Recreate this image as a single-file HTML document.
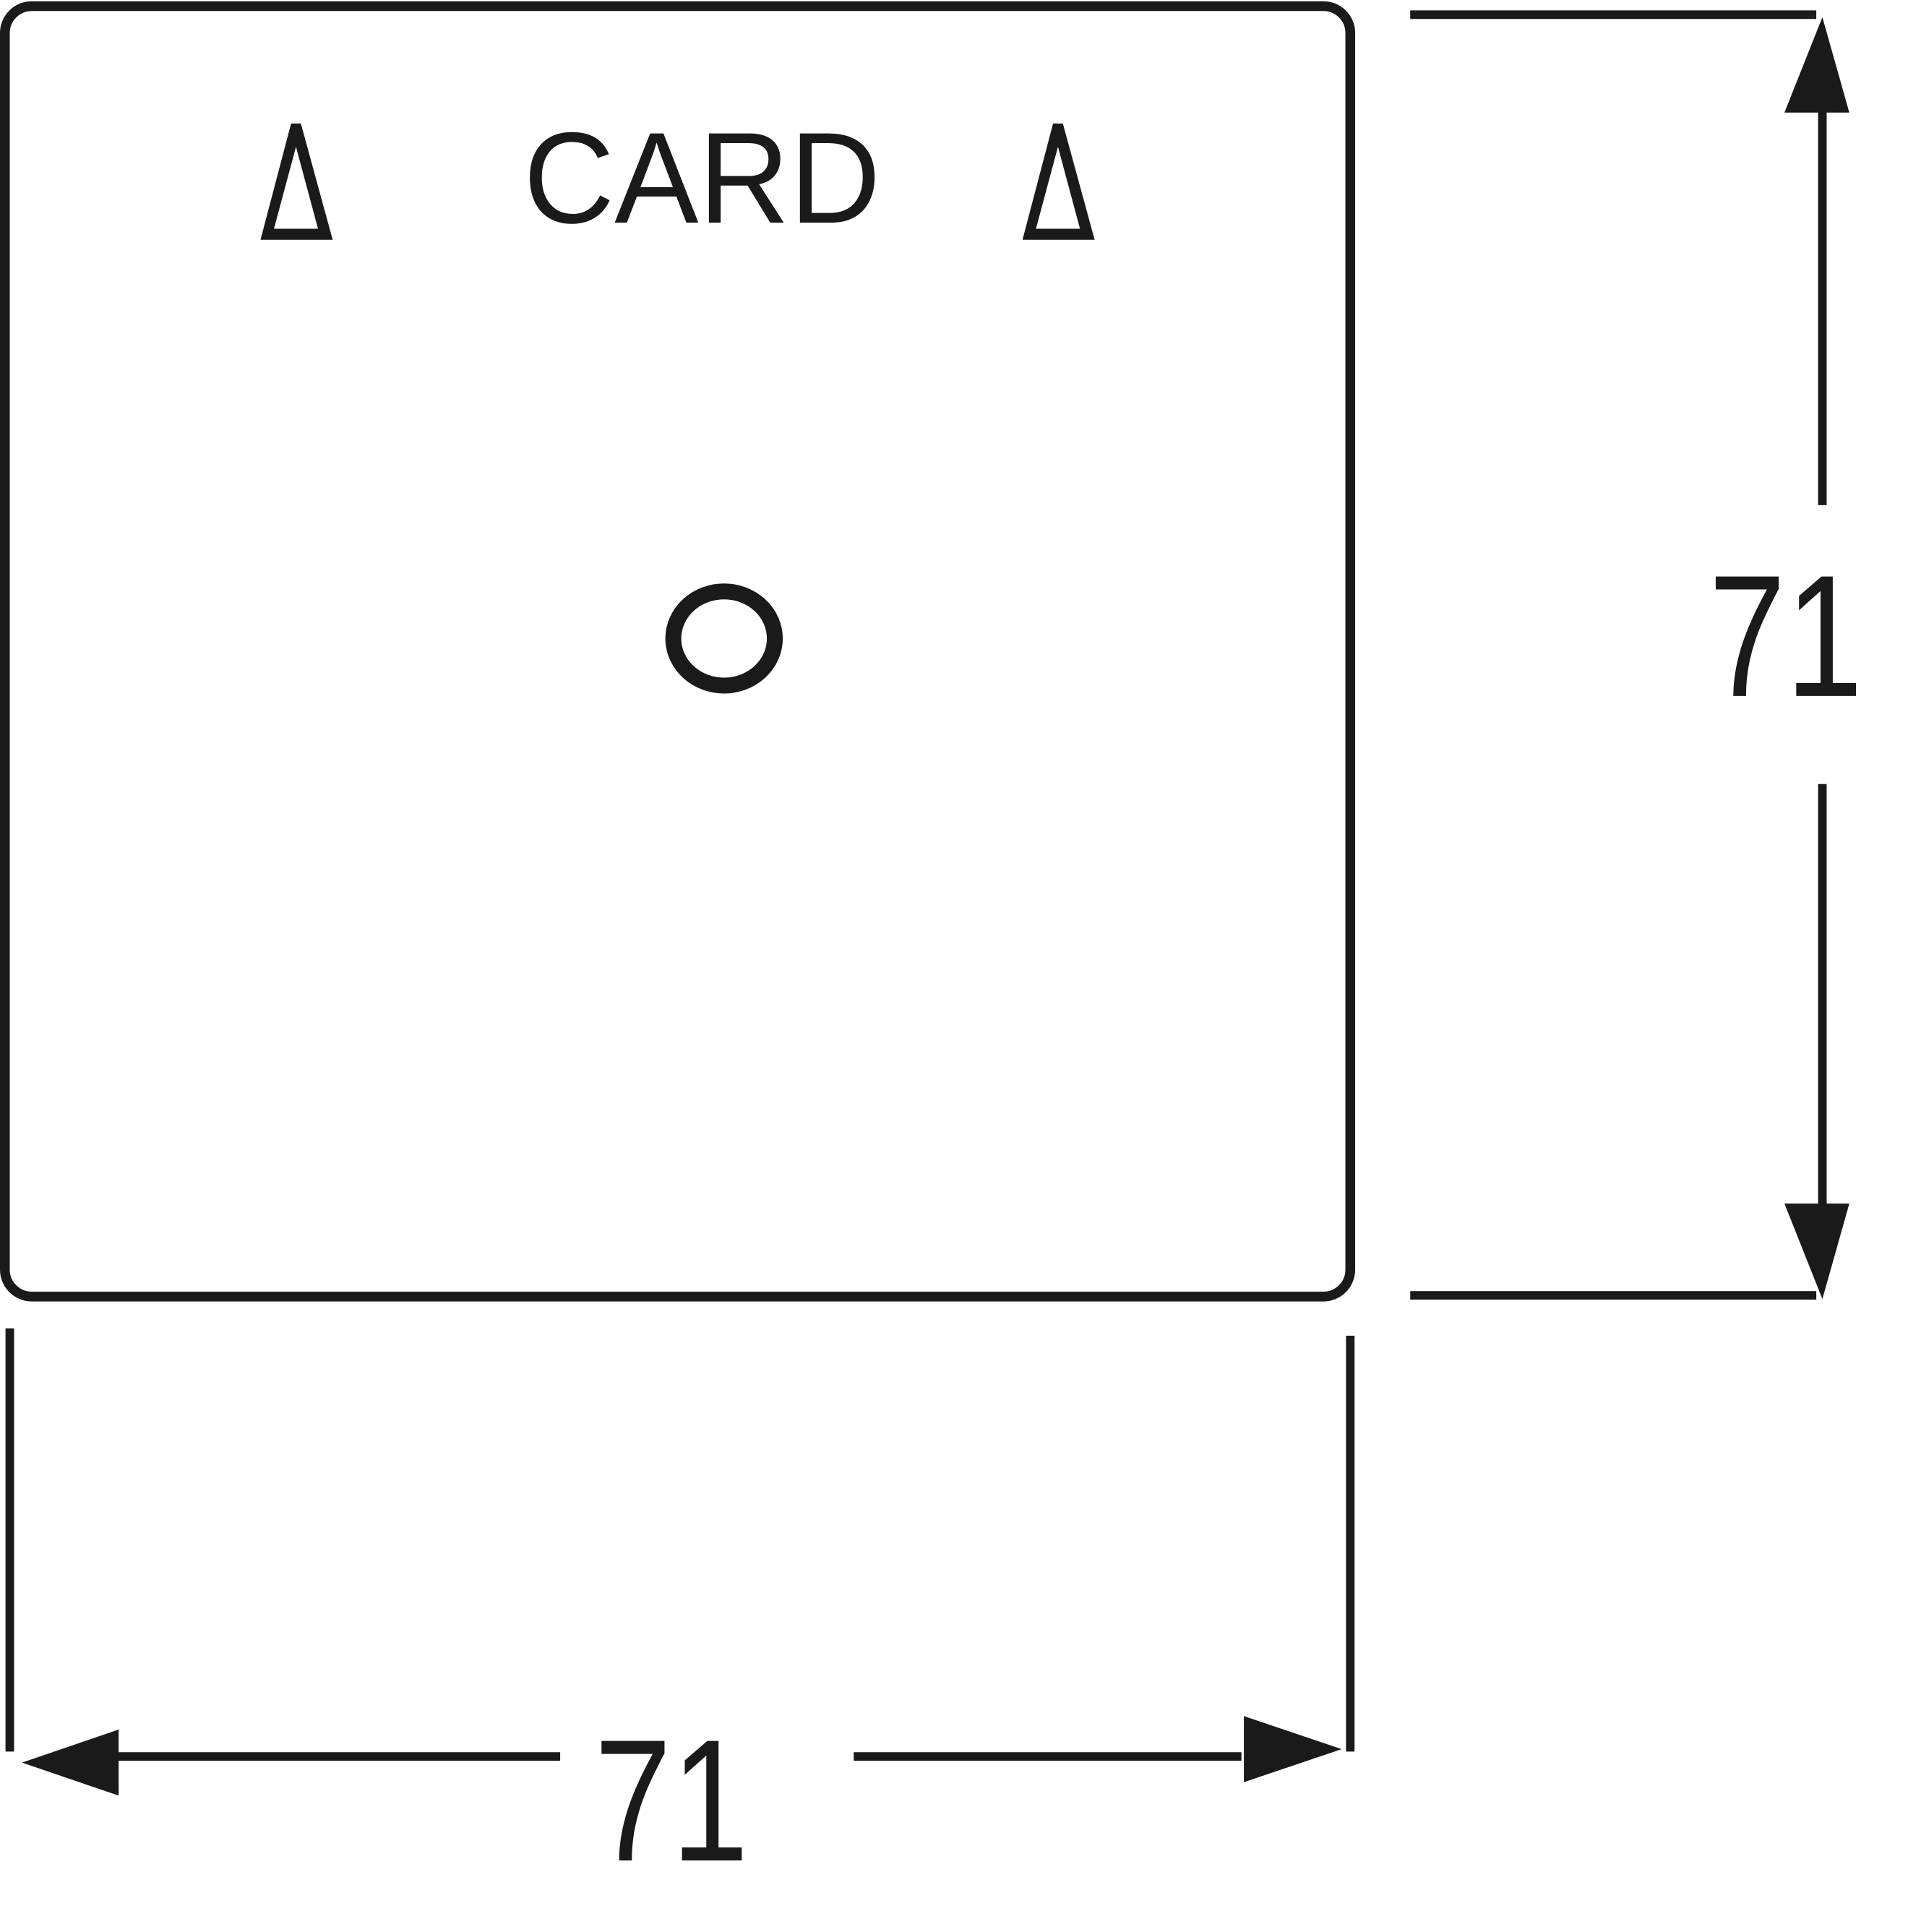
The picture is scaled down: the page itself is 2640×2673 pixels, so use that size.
<!DOCTYPE html>
<html><head><meta charset="utf-8"><style>
html,body{margin:0;padding:0;background:#fff;}
svg{display:block;}
</style></head><body>
<svg width="2640" height="2673" viewBox="0 0 1560 1579.5" xmlns="http://www.w3.org/2000/svg">
<g fill="none" stroke="#1a1a1a">
<rect x="4" y="5" width="1100" height="1055" rx="22" stroke-width="8"/>
<ellipse cx="592" cy="522" rx="41.5" ry="38.5" stroke-width="13"/>
<g stroke-width="7">
<line x1="1153" y1="12" x2="1485" y2="12"/>
<line x1="1153" y1="1059" x2="1485" y2="1059"/>
<line x1="1490" y1="90" x2="1490" y2="413"/>
<line x1="1490" y1="641" x2="1490" y2="986"/>
<line x1="8" y1="1086" x2="8" y2="1432"/>
<line x1="1104" y1="1092" x2="1104" y2="1432"/>
<line x1="95" y1="1436" x2="458" y2="1436"/>
<line x1="698" y1="1436" x2="1015" y2="1436"/>
</g>
</g>
<g fill="#1a1a1a">
<polygon points="1490,14 1459,92 1512,92"/>
<polygon points="1459,984 1512,984 1490,1062"/>
<polygon points="18,1441 97,1414 97,1468"/>
<polygon points="1017,1403 1017,1457 1097,1430"/>
<path fill-rule="evenodd" d="M213,196 L238,101 L246,101 L272,196 Z M224,187 L242,120 L260,187 Z"/>
<path fill-rule="evenodd" d="M836,196 L861,101 L869,101 L895,196 Z M847,187 L865,120 L883,187 Z"/>
</g>
<g fill="#1a1a1a" font-family="'Liberation Sans', sans-serif">
<text x="574" y="182" font-size="106" text-anchor="middle" textLength="292" lengthAdjust="spacingAndGlyphs">CARD</text>
<text x="1460" y="569" font-size="142" text-anchor="middle" textLength="126" lengthAdjust="spacingAndGlyphs">71</text>
<text x="549" y="1521" font-size="142" text-anchor="middle" textLength="126" lengthAdjust="spacingAndGlyphs">71</text>
</g>
</svg>
</body></html>
